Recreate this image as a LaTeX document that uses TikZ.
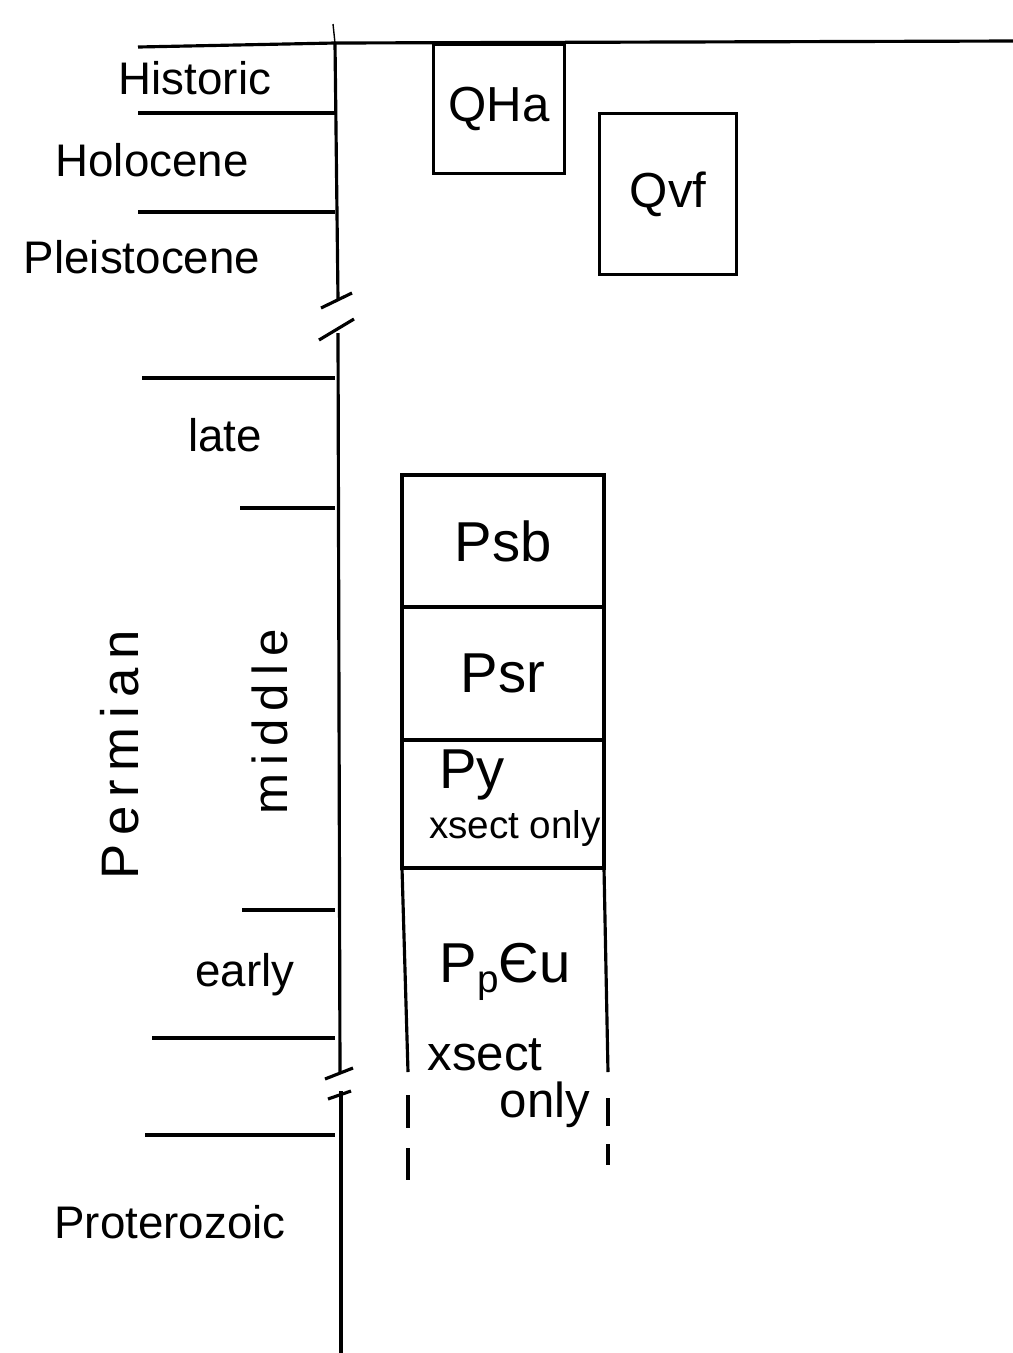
\documentclass[tikz,border=0pt]{standalone}
\usepackage{fontspec}
\setmainfont{Liberation Sans}
\usetikzlibrary{positioning}

\begin{document}
\begin{tikzpicture}[line width=0.9pt]
\tikzstyle{lbl}=[font=\fontsize{13}{15}\selectfont, inner sep=1pt]
\tikzstyle{unit}=[draw, minimum width=2.02cm, inner sep=0pt, outer sep=0pt, font=\fontsize{16}{18}\selectfont]
\tikzstyle{small}=[font=\fontsize{11}{13}\selectfont, inner sep=1pt]
\useasboundingbox (0,0) rectangle (10.13,-13.53);

% Axis
\coordinate (tick) at (3.33,-0.24);
\coordinate (a0) at (3.35,-0.43);
\coordinate (a1) at (3.38,-2.99);
\coordinate (a2) at (3.38,-3.33);
\coordinate (a3) at (3.40,-10.73);
\coordinate (a4) at (3.41,-10.91);
\coordinate (a5) at (3.41,-13.53);
\coordinate (tl) at (1.38,-0.47);
\coordinate (tr) at (10.13,-0.41);
\draw (tl) -- (a0) -- (tr);
\draw[line width=0.4pt] (tick) -- (a0);
\draw (a0) -- (a1);
\draw (a2) -- (a3);
\draw (a4) -- (a5);
% Breaks
\draw (3.21,-3.08) -- (3.52,-2.93);
\draw (3.19,-3.40) -- (3.54,-3.19);
\draw (3.25,-10.79) -- (3.53,-10.68);
\draw (3.28,-10.99) -- (3.51,-10.91);

% Ticks
\coordinate (h1) at (1.38,-1.13);
\coordinate (h2) at (1.38,-2.12);
\coordinate (h3) at (1.42,-3.78);
\coordinate (h4) at (2.40,-5.08);
\coordinate (h5) at (2.42,-9.10);
\coordinate (h6) at (1.52,-10.38);
\coordinate (h7) at (1.45,-11.35);
\foreach \h in {h1,h2,h3,h4,h5,h6,h7}
  \draw (\h) -- (\h -| a0);

% Ages
\node[lbl] (historic) at (1.95,-0.78) {Historic};
\node[lbl] (holocene) at (1.52,-1.60) {Holocene};
\node[lbl] (pleisto) at (1.42,-2.57) {Pleistocene};
\node[lbl] (late) at (2.25,-4.35) {late};
\node[lbl, rotate=90, font=\fontsize{15}{17}\selectfont] (permian) at (1.20,-7.55) {P\,e\,r\,m\,i\,a\,n};
\node[lbl, rotate=90, font=\fontsize{14}{16}\selectfont] (middle) at (2.70,-7.22) {m\,i\,d\,d\,l\,e};
\node[lbl] (early) at (2.45,-9.75) {early};
\node[lbl] (protero) at (1.70,-12.22) {Proterozoic};

% Quaternary units
\node[draw, minimum width=1.31cm, minimum height=1.29cm, anchor=north west, font=\fontsize{14}{16}\selectfont] (qha) at (4.32,-0.43) {QHa};
\node[draw, minimum width=1.37cm, minimum height=1.61cm, anchor=north west, font=\fontsize{14}{16}\selectfont] (qvf) at (5.98,-1.12) {Qvf};

% Permian column
\node[unit, minimum height=1.32cm, anchor=north west] (psb) at (4.02,-4.75) {Psb};
\node[unit, minimum height=1.33cm, below=0pt of psb] (psr) {Psr};
\node[unit, minimum height=1.28cm, below=0pt of psr] (py) {};
\node[lbl, font=\fontsize{16}{18}\selectfont] (pylbl) at (4.72,-7.75) {Py};
\node[small] (pyx) at (5.15,-8.28) {xsect only};

% Lowest unit
\coordinate (bl) at (4.08,-10.72);
\coordinate (br) at (6.08,-10.72);
\draw (py.south west) -- (bl);
\draw (py.south east) -- (br);
\draw[dash pattern=on 0.33cm off 0.2cm] (4.08,-10.95) -- (4.08,-11.80);
\draw[dash pattern=on 0.28cm off 0.18cm] (6.08,-10.98) -- (6.08,-11.65);
\node[lbl, font=\fontsize{16}{18}\selectfont] (ppcu) at (5.05,-9.72) {P\raisebox{-0.35ex}{\fontsize{11}{13}\selectfont p}Єu};
\node[lbl, font=\fontsize{14}{16}\selectfont] (xsect) at (4.85,-10.55) {xsect};
\node[lbl, font=\fontsize{14}{16}\selectfont] (only) at (5.45,-11.05) {only};

\end{tikzpicture}
\end{document}
